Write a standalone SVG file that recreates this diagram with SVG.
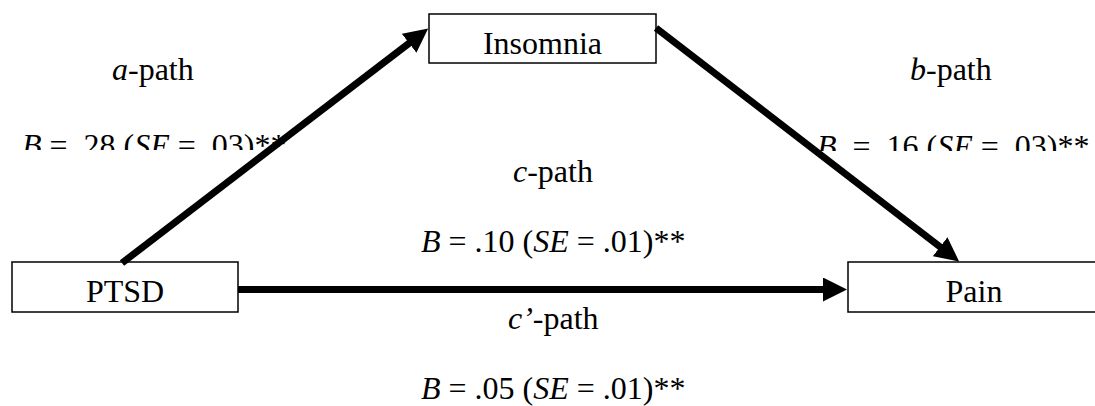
<svg xmlns="http://www.w3.org/2000/svg" width="1095" height="406" viewBox="0 0 1095 406">
  <style>
    text { font-family: "Liberation Serif", serif; font-size: 32px; fill: #000; white-space: pre; }
    .i { font-style: italic; }
    .box { fill: #fff; stroke: #000; stroke-width: 1.5; }
    .conn { stroke: #000; stroke-width: 7; fill: none; marker-end: url(#head); }
  </style>
  <defs>
    <marker id="head" viewBox="0 0 24 24" refX="1" refY="12" markerWidth="24" markerHeight="24" markerUnits="userSpaceOnUse" orient="auto">
      <path d="M0,0 L24,12 L0,24 z" fill="#000"/>
    </marker>
    <clipPath id="clipA"><rect x="0" y="100" width="420" height="50"/></clipPath>
    <clipPath id="clipB"><rect x="780" y="100" width="315" height="51"/></clipPath>
  </defs>
  <rect width="1095" height="406" fill="#fff"/>

  <g id="labels" font-family="Liberation Serif, serif">
    <text x="112" y="80"><tspan class="i">a</tspan>-path</text>
    <text x="22" y="156" clip-path="url(#clipA)"><tspan class="i">B</tspan> = .28 (<tspan class="i">SE</tspan> = .03)**</text>
    <text x="910" y="80"><tspan class="i">b</tspan>-path</text>
    <text x="817" y="157" clip-path="url(#clipB)"><tspan class="i">B</tspan>  = .16 (<tspan class="i">SE</tspan> = .03)**</text>
    <text x="513" y="182"><tspan class="i">c</tspan>-path</text>
    <text x="421" y="252"><tspan class="i">B</tspan> = .10 (<tspan class="i">SE</tspan> = .01)**</text>
    <text x="508" y="329"><tspan class="i">c’</tspan>-path</text>
    <text x="421" y="399"><tspan class="i">B</tspan> = .05 (<tspan class="i">SE</tspan> = .01)**</text>
  </g>

  <g id="node-insomnia">
    <rect class="box" x="429" y="14" width="227" height="49"/>
    <text x="542.5" y="54" text-anchor="middle">Insomnia</text>
  </g>
  <g id="node-ptsd">
    <rect class="box" x="12" y="262" width="226" height="50"/>
    <text x="125" y="302" text-anchor="middle">PTSD</text>
  </g>
  <g id="node-pain">
    <rect class="box" x="848" y="262" width="252" height="50"/>
    <text x="974" y="302" text-anchor="middle">Pain</text>
  </g>

  <g id="connectors">
    <line class="conn" x1="122" y1="263" x2="409.9" y2="42.6"/>
    <line class="conn" x1="656" y1="28" x2="940.9" y2="247.4"/>
    <line class="conn" x1="238" y1="289.5" x2="824" y2="289.5"/>
  </g>
</svg>
